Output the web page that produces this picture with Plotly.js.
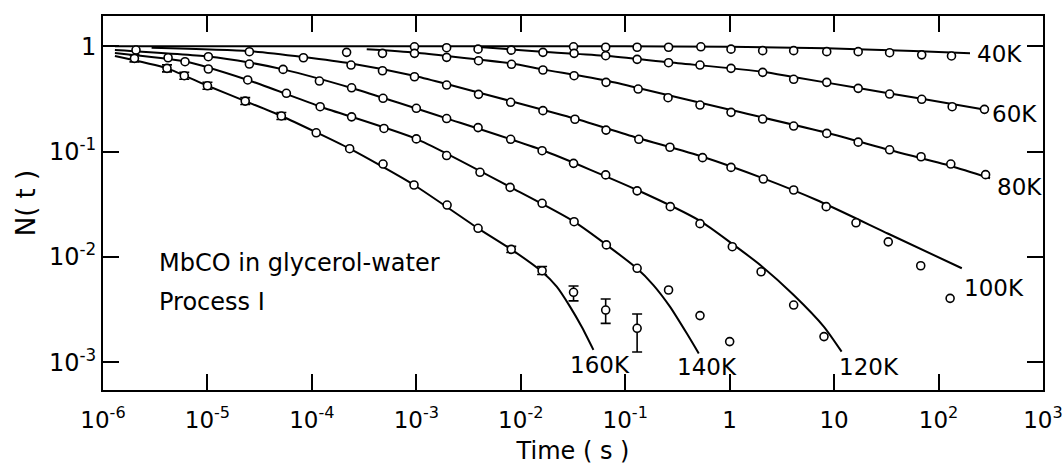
<!DOCTYPE html>
<html>
<head>
<meta charset="utf-8">
<script src="https://cdn.plot.ly/plotly-3.0.1.min.js"></script>
<style>html,body{margin:0;padding:0;background:#fff;}</style>
</head>
<body>
<div id="chart" style="width:1063px;height:470px;"></div>
<script>
// ---------------- data ----------------
const xTickVals = [1e-6, 1e-5, 1e-4, 1e-3, 1e-2, 1e-1, 1, 10, 100, 1000];
const xTickText = ["10<sup>-6</sup>", "10<sup>-5</sup>", "10<sup>-4</sup>", "10<sup>-3</sup>", "10<sup>-2</sup>", "10<sup>-1</sup>", "1", "10", "10<sup>2</sup>", "10<sup>3</sup>"];
const yTickVals = [1e-3, 1e-2, 1e-1, 1];
const yTickText = ["10<sup>-3</sup>", "10<sup>-2</sup>", "10<sup>-1</sup>", "1"];

// measured points
const t40 = [9.6e-4, 1.95e-3, 3.2e-2, 6.5e-2, 0.13, 0.26, 0.53, 1.03, 2.07, 4.1, 8.5, 17, 34, 69, 133];
const n40 = [0.99, 0.97, 0.99, 0.98, 0.98, 0.98, 0.99, 0.94, 0.91, 0.91, 0.89, 0.89, 0.87, 0.83, 0.81];
const t60 = [3.9e-3, 8.1e-3, 1.63e-2, 3.24e-2, 6.5e-2, 0.13, 0.26, 0.52, 1.03, 2.07, 4.1, 8.5, 17, 34, 69, 135, 275];
const n60 = [0.94, 0.92, 0.877, 0.858, 0.814, 0.752, 0.699, 0.664, 0.618, 0.566, 0.486, 0.455, 0.399, 0.352, 0.314, 0.267, 0.252];
const t80 = [2.15e-4, 4.74e-4, 9.6e-4, 1.95e-3, 3.94e-3, 8.15e-3, 1.63e-2, 3.24e-2, 6.55e-2, 0.133, 0.257, 0.52, 1.03, 2.07, 4.1, 8.5, 17, 34, 68, 131, 282];
const n80 = [0.877, 0.858, 0.858, 0.786, 0.730, 0.675, 0.596, 0.526, 0.455, 0.393, 0.325, 0.277, 0.236, 0.204, 0.175, 0.149, 0.123, 0.104, 0.0894, 0.0762, 0.0604];
const t100 = [2.52e-5, 8.3e-5, 2.37e-4, 4.74e-4, 9.6e-4, 1.95e-3, 3.94e-3, 8.0e-3, 1.63e-2, 3.3e-2, 6.55e-2, 0.135, 0.268, 0.55, 1.03, 2.1, 4.1, 8.4, 16.2, 33, 67.5, 129];
const n100 = [0.889, 0.779, 0.664, 0.586, 0.514, 0.429, 0.350, 0.294, 0.245, 0.203, 0.160, 0.131, 0.110, 0.0876, 0.0708, 0.0549, 0.0432, 0.0300, 0.0211, 0.0139, 0.00824, 0.00404];
const t120 = [1.02e-5, 2.52e-5, 5.3e-5, 1.18e-4, 2.4e-4, 4.8e-4, 1.0e-3, 1.95e-3, 3.9e-3, 8.0e-3, 1.6e-2, 3.2e-2, 6.5e-2, 0.13, 0.27, 0.52, 1.06, 2.0, 4.1, 8.0];
const n120 = [0.797, 0.679, 0.604, 0.468, 0.404, 0.321, 0.258, 0.206, 0.169, 0.131, 0.102, 0.0774, 0.0601, 0.0424, 0.0300, 0.0207, 0.0125, 0.00723, 0.00349, 0.00175];
const t140 = [2.07e-6, 4.2e-6, 6.1e-6, 1.02e-5, 2.43e-5, 5.7e-5, 1.2e-4, 2.4e-4, 4.9e-4, 1.0e-3, 1.95e-3, 4.07e-3, 7.9e-3, 1.6e-2, 3.24e-2, 6.6e-2, 0.13, 0.26, 0.52, 1.0];
const n140 = [0.922, 0.779, 0.714, 0.609, 0.479, 0.358, 0.267, 0.214, 0.166, 0.132, 0.0918, 0.0636, 0.0458, 0.0323, 0.0216, 0.0130, 0.0078, 0.00485, 0.00277, 0.00157];
const t160 = [2.0e-6, 4.1e-6, 6.0e-6, 1.0e-5, 2.3e-5, 5.1e-5, 1.1e-4, 2.3e-4, 4.8e-4, 9.5e-4, 1.97e-3, 3.9e-3, 8.1e-3, 1.6e-2, 3.2e-2, 6.5e-2, 0.13];
const n160 = [0.769, 0.618, 0.526, 0.422, 0.302, 0.218, 0.151, 0.1066, 0.0762, 0.0482, 0.0311, 0.0187, 0.0118, 0.0074, 0.00461, 0.00313, 0.0021];
const hi160 = [0.83, 0.667, 0.568, 0.456, 0.326, 0.235, null, null, null, null, null, null, 0.0126, 0.0081, 0.0053, 0.00398, 0.00287];
const lo160 = [0.712, 0.572, 0.487, 0.391, 0.280, 0.202, null, null, null, null, null, null, 0.0110, 0.0068, 0.00382, 0.00234, 0.00125];

// fitted curves
const f40t = [1.3e-6, 0.1, 1.0, 8.5, 34, 100, 200];
const f40n = [1.0, 1.0, 0.99, 0.957, 0.92, 0.883, 0.858];
const f60t = [4e-3, 1.6e-2, 6.5e-2, 0.26, 2.07, 4.1, 17, 69, 290];
const f60n = [0.985, 0.888, 0.814, 0.705, 0.574, 0.511, 0.402, 0.317, 0.248];
const f80t = [3.35e-4, 9.5e-4, 1.95e-3, 8.15e-3, 1.63e-2, 6.5e-2, 0.13, 1.03, 8.5, 34, 131, 311];
const f80n = [0.936, 0.873, 0.809, 0.687, 0.604, 0.473, 0.404, 0.248, 0.151, 0.1035, 0.073, 0.0558];
const f100t = [2.92e-6, 2.5e-5, 8.3e-5, 2.37e-4, 9.5e-4, 1.95e-3, 8.0e-3, 3.3e-2, 0.135, 0.55, 2.1, 6.8, 33, 167];
const f100n = [0.97, 0.902, 0.791, 0.687, 0.526, 0.438, 0.302, 0.206, 0.134, 0.0894, 0.0557, 0.0347, 0.0166, 0.0078];
const f120t = [1.3e-6, 1.01e-5, 2.5e-5, 5.3e-5, 2.4e-4, 1.95e-3, 1.6e-2, 0.13, 0.52, 1.06, 2.0, 4.1, 8.0, 11.8];
const f120n = [0.922, 0.80, 0.702, 0.604, 0.402, 0.207, 0.1035, 0.0432, 0.022, 0.0133, 0.00825, 0.00435, 0.00217, 0.00126];
const f140t = [1.3e-6, 6.1e-6, 2.43e-5, 1.21e-4, 1.0e-3, 8.0e-3, 3.24e-2, 0.129, 0.186, 0.268, 0.388, 0.506];
const f140n = [0.864, 0.717, 0.479, 0.267, 0.132, 0.0458, 0.0216, 0.0078, 0.0054, 0.00337, 0.00188, 0.00121];
const f160t = [1.3e-6, 4.1e-6, 1.0e-5, 2.3e-5, 5.1e-5, 2.3e-4, 9.5e-4, 3.9e-3, 8.1e-3, 1.6e-2, 2.21e-2, 2.96e-2, 3.83e-2, 4.96e-2];
const f160n = [0.809, 0.618, 0.422, 0.302, 0.218, 0.1066, 0.0482, 0.0187, 0.0118, 0.00723, 0.00521, 0.00337, 0.00217, 0.00131];

// curve labels
const labelText = ["40K", "60K", "80K", "100K", "120K", "140K", "160K"];
const labelT = [223, 311, 347, 167, 10.7, 0.300, 0.0283];
const labelN = [0.845, 0.2275, 0.0464, 0.00507, 9.06e-4, 9.06e-4, 9.4e-4];

const noteText = ["MbCO in glycerol-water", "Process I"];
const noteT = [3.29e-6, 3.29e-6];
const noteN = [0.00875, 0.00372];

// ---------------- chart ----------------
const FONT = "DejaVu Sans, Liberation Sans, sans-serif";
const lineStyle = {color: "black", width: 2};
const markerStyle = {symbol: "circle", size: 8, color: "white", line: {color: "black", width: 1.6}};

const fits = [[f40t, f40n], [f60t, f60n], [f80t, f80n], [f100t, f100n], [f120t, f120n], [f140t, f140n], [f160t, f160n]];
const pts = [[t40, n40], [t60, n60], [t80, n80], [t100, n100], [t120, n120], [t140, n140]];

const traces = [];
fits.forEach(f => traces.push({x: f[0], y: f[1], mode: "lines", line: Object.assign({shape: "spline", smoothing: 0.6}, lineStyle), hoverinfo: "skip"}));
pts.forEach(p => traces.push({x: p[0], y: p[1], mode: "markers", marker: markerStyle}));

const errPlus = n160.map((v, i) => hi160[i] === null ? NaN : hi160[i] - v);
const errMinus = n160.map((v, i) => lo160[i] === null ? NaN : v - lo160[i]);
traces.push({
  x: t160, y: n160, mode: "markers", marker: markerStyle,
  error_y: {type: "data", symmetric: false, array: errPlus, arrayminus: errMinus, color: "black", thickness: 1.6, width: 5}
});

const annotations = [];
labelText.forEach((s, i) => annotations.push({
  x: Math.log10(labelT[i]), y: Math.log10(labelN[i]), xref: "x", yref: "y",
  text: s, showarrow: false, xanchor: "left", yanchor: "middle",
  font: {family: FONT, size: 23, color: "black"}
}));
noteText.forEach((s, i) => annotations.push({
  x: Math.log10(noteT[i]), y: Math.log10(noteN[i]), xref: "x", yref: "y",
  text: s, showarrow: false, xanchor: "left", yanchor: "middle",
  font: {family: FONT, size: 24, color: "black"}
}));

const layout = {
  width: 1063, height: 470,
  margin: {l: 103, r: 20, t: 16, b: 80},
  paper_bgcolor: "white", plot_bgcolor: "white",
  showlegend: false,
  font: {family: FONT, color: "black", size: 24},
  xaxis: {
    type: "log", range: [-6, 3],
    tickvals: xTickVals, ticktext: xTickText,
    ticks: "inside", ticklen: 16, tickwidth: 2, tickcolor: "black",
    showline: true, linewidth: 2, linecolor: "black", mirror: "ticks",
    showgrid: false, zeroline: false,
    ticklabelstandoff: 8, ticklabeloverflow: "allow",
    tickfont: {family: FONT, size: 23, color: "black"},
    title: {text: "Time ( s )", font: {family: FONT, size: 24, color: "black"}, standoff: 11}
  },
  yaxis: {
    type: "log", range: [-3.264, 0.288],
    tickvals: yTickVals, ticktext: yTickText,
    ticks: "inside", ticklen: 16, tickwidth: 2, tickcolor: "black",
    showline: true, linewidth: 2, linecolor: "black", mirror: "ticks",
    showgrid: false, zeroline: false,
    tickfont: {family: FONT, size: 24, color: "black"},
    title: {text: "N( t )", font: {family: FONT, size: 26, color: "black"}, standoff: 6}
  },
  annotations: annotations
};

Plotly.newPlot("chart", traces, layout, {displayModeBar: false});
</script>
</body>
</html>
